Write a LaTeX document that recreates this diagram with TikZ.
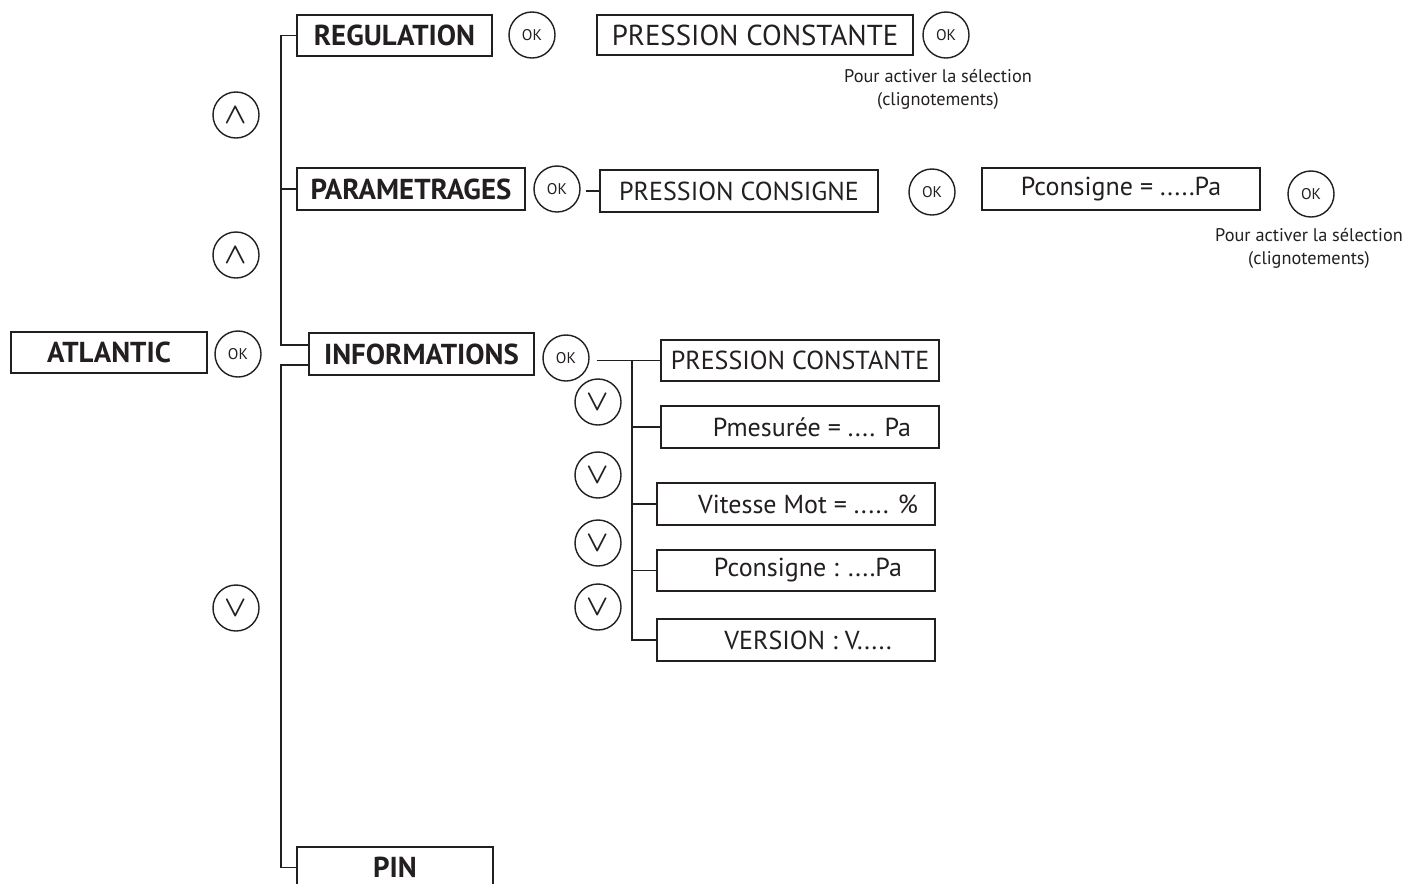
\documentclass[tikz,border=0pt]{standalone}
\usepackage{fontspec}
\setmainfont{PT Sans}
\usetikzlibrary{positioning,calc}
\definecolor{ink}{RGB}{35,31,32}
\tikzset{
  menu/.style={draw=ink, line width=1.4pt, text=ink, inner sep=0pt, minimum height=1.03cm, font=\fontsize{20.5}{22}\selectfont\bfseries},
  entry/.style={draw=ink, line width=1.4pt, text=ink, inner sep=0pt, minimum height=1.04cm, minimum width=6.95cm, font=\fontsize{18.5}{20}\selectfont},
  key/.style={circle, draw=ink, line width=1pt, text=ink, inner sep=0pt, minimum size=1.15cm, font=\fontsize{11}{12}\selectfont},
  arrowkey/.style={key, font=\fontsize{21}{22}\selectfont\boldmath},
  link/.style={draw=ink, line width=1.2pt},
  hint/.style={text=ink, align=center, font=\fontsize{13}{16.4}\selectfont},
}
\begin{document}
\begin{tikzpicture}[x=0.025cm, y=-0.025cm]
  \clip (0,0) rectangle (1408,883);
  \fill[white] (0,0) rectangle (1408,883);

  % main menu
  \node[menu, minimum width=4.9cm] (atl) at (109,352.5) {ATLANTIC};
  \node[key] (okA) at (238,354) {OK};
  \coordinate (trunk) at (281,0);
  \node[menu, minimum width=4.875cm] (reg) at (394.5,35.5) {REGULATION};
  \node[menu, minimum width=5.7cm] (par) at (411,189) {PARAMETRAGES};
  \node[menu, minimum width=5.625cm] (info) at (421.5,354) {INFORMATIONS};
  \node[menu, minimum width=4.9cm] (pin) at (395,867.5) {PIN};
  \node[arrowkey] (up1) at (236,115) {$\wedge$};
  \node[arrowkey] (up2) at (236,255) {$\wedge$};
  \node[arrowkey] (dn0) at (236,608) {$\vee$};

  \draw[link] (reg.west) -- (reg.west -| trunk) |- ($(info.west)+(0,-9)$);
  \draw[link] (par.west) -- (par.west -| trunk);
  \draw[link] ($(info.west)+(0,11)$) -| (trunk |- pin.west) -- (pin.west);

  % regulation
  \node[key] (okR1) at (532,35) {OK};
  \node[entry, minimum width=7.9cm, minimum height=1cm, font=\fontsize{20.5}{22}\selectfont] (regval) at (755,35) {PRESSION CONSTANTE};
  \node[key] (okR2) at (946,35) {OK};
  \node[hint] (hintR) at (938,89) {Pour activer la sélection\\(clignotements)};

  % parametrages
  \node[key] (okP1) at (557,189) {OK};
  \node[entry] (cons) at (739,191) {PRESSION CONSIGNE};
  \node[key] (okP2) at (932,192) {OK};
  \node[entry] (consval) at (1121,189) {Pconsigne = .....Pa};
  \node[key] (okP3) at (1311,194) {OK};
  \node[hint] (hintP) at (1309,248) {Pour activer la sélection\\(clignotements)};
  \coordinate (dashP) at ($(okP1.east)+(5,0)$);
  \draw[link] (dashP |- cons.west) -- (cons.west);

  % informations
  \node[key] (okI) at (566,358) {OK};
  \coordinate (sub) at (632,0);
  \node[entry] (i1) at (800,360.5) {PRESSION CONSTANTE};
  \node[entry] (i2) at (800,427) {\hspace*{0.6cm}Pmesurée = .... Pa};
  \node[entry] (i3) at (796,504) {\hspace*{0.6cm}Vitesse Mot = ..... \%};
  \node[entry] (i4) at (796,570.5) {\hspace*{0.6cm}Pconsigne : ....Pa};
  \node[entry] (i5) at (796,640) {\hspace*{0.6cm}VERSION : V.....};
  \node[arrowkey] (dn1) at (598,402) {$\vee$};
  \node[arrowkey] (dn2) at (598,475) {$\vee$};
  \node[arrowkey] (dn3) at (598,543) {$\vee$};
  \node[arrowkey] (dn4) at (598,607) {$\vee$};

  \coordinate (startI) at ($(okI.east)+(7,0)$);
  \draw[link] (startI |- i1.west) -- (i1.west);
  \draw[link] (sub |- i1.west) |- (i5.west);
  \foreach \n in {i2,i3,i4}
    \draw[link] (sub |- \n.west) -- (\n.west);
\end{tikzpicture}
\end{document}
